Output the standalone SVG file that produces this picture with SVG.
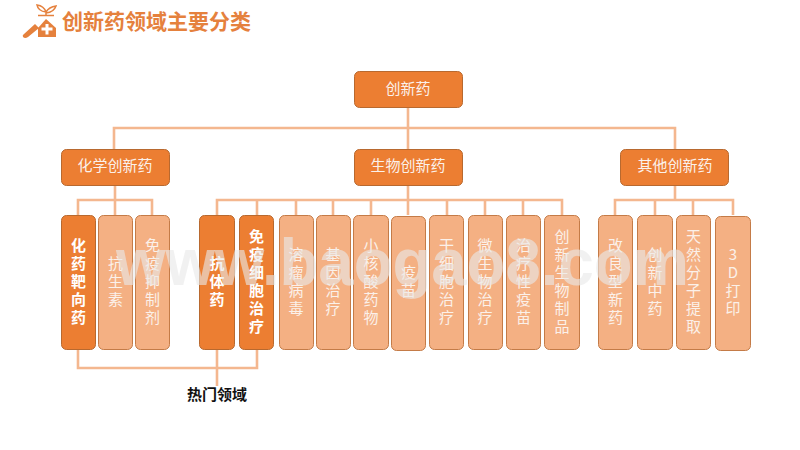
<svg xmlns="http://www.w3.org/2000/svg" width="800" height="450" viewBox="0 0 800 450">
<style>
text{font-family:"Noto Sans CJK SC","Liberation Sans",sans-serif}
.c{fill:none;stroke:#F4B78F;stroke-width:2.600}
.d{fill:#EC7E32;stroke:#B8692F;stroke-width:1}
.l{fill:#F4B083;stroke:#C47B47;stroke-width:1}
.t{fill:#FBF1EA;font-size:15px;text-anchor:middle}
.v{fill:#FBF1EA;font-size:15px;text-anchor:middle}
.b{font-weight:700;fill:#fff}
</style>
<rect width="800" height="450" fill="#fff"/>
<g id="logo">
<path d="M24 34 L35 24 L39 28 L28 37 Q25 39 23 37 Q22 35 24 34Z" fill="#E5813D"/>
<path d="M46 19 L56 28 V37 H38 V28Z" fill="#E5813D"/>
<path d="M45.500 24 h3 v3.500 h4 v3 h-4 v4 h-3 v-4 h-4 v-3 h4z" fill="#fff"/>
<path d="M38 15.500 H54 M46 15.500 V12 M46 12 Q38 11 37 5 Q44 6 46 12 Q49 7 56 6 Q54 12 46 13" fill="none" stroke="#E5813D" stroke-width="1.500"/>
</g>
<text x="62" y="29" font-size="21" font-weight="700" fill="#E5813D">创新药领域主要分类</text>
<g id="connectors">
<path class="c" d="M408 108V149M114 149V128H675V149M408 186V215"/>
<path class="c" d="M115 186V215M78 215V200H152V215"/>
<path class="c" d="M217 215V200H562V215M257 200V215M296 200V215M333 200V215M371 200V215M447 200V215M485 200V215M523 200V215"/>
<path class="c" d="M675 186V200M615 215V200H733V215M655 200V215M693 200V215"/>
<path class="c" d="M78 350V368H257V350M217 350V386"/>
</g>
<g id="n0"><rect class="d" x="354.500" y="71.500" width="108" height="36" rx="5"/><text class="t" x="408" y="94">创新药</text></g>
<g id="n1"><rect class="d" x="61.500" y="149.500" width="108" height="36" rx="5"/><text class="t" x="115" y="171">化学创新药</text></g>
<g id="n2"><rect class="d" x="354.500" y="149.500" width="108" height="36" rx="5"/><text class="t" x="408" y="171">生物创新药</text></g>
<g id="n3"><rect class="d" x="620.500" y="149.500" width="108" height="36" rx="5"/><text class="t" x="675" y="171">其他创新药</text></g>
<g id="a1"><rect class="d" x="61.500" y="215.500" width="34" height="134" rx="5"/><text class="v b" x="78.500"><tspan x="78.500" y="251">化</tspan><tspan x="78.500" y="269">药</tspan><tspan x="78.500" y="287">靶</tspan><tspan x="78.500" y="305">向</tspan><tspan x="78.500" y="323">药</tspan></text></g>
<g id="a2"><rect class="l" x="98.500" y="215.500" width="34" height="134" rx="5"/><text class="v" x="115.500"><tspan x="115.500" y="269">抗</tspan><tspan x="115.500" y="287">生</tspan><tspan x="115.500" y="305">素</tspan></text></g>
<g id="a3"><rect class="l" x="135.500" y="215.500" width="34" height="134" rx="5"/><text class="v" x="152.500"><tspan x="152.500" y="251">免</tspan><tspan x="152.500" y="269">疫</tspan><tspan x="152.500" y="287">抑</tspan><tspan x="152.500" y="305">制</tspan><tspan x="152.500" y="323">剂</tspan></text></g>
<g id="b1"><rect class="d" x="199.500" y="215.500" width="35" height="134" rx="5"/><text class="v b" x="217"><tspan x="217" y="269">抗</tspan><tspan x="217" y="287">体</tspan><tspan x="217" y="305">药</tspan></text></g>
<g id="b2"><rect class="d" x="239.500" y="215.500" width="34" height="134" rx="5"/><text class="v b" x="256.500"><tspan x="256.500" y="242">免</tspan><tspan x="256.500" y="260">疫</tspan><tspan x="256.500" y="278">细</tspan><tspan x="256.500" y="296">胞</tspan><tspan x="256.500" y="314">治</tspan><tspan x="256.500" y="332">疗</tspan></text></g>
<g id="b3"><rect class="l" x="279.500" y="215.500" width="34" height="134" rx="5"/><text class="v" x="296"><tspan x="296" y="260">溶</tspan><tspan x="296" y="278">瘤</tspan><tspan x="296" y="296">病</tspan><tspan x="296" y="314">毒</tspan></text></g>
<g id="b4"><rect class="l" x="316.500" y="215.500" width="34" height="134" rx="5"/><text class="v" x="333"><tspan x="333" y="260">基</tspan><tspan x="333" y="278">因</tspan><tspan x="333" y="296">治</tspan><tspan x="333" y="314">疗</tspan></text></g>
<g id="b5"><rect class="l" x="353.500" y="215.500" width="35" height="134" rx="5"/><text class="v" x="371"><tspan x="371" y="251">小</tspan><tspan x="371" y="269">核</tspan><tspan x="371" y="287">酸</tspan><tspan x="371" y="305">药</tspan><tspan x="371" y="323">物</tspan></text></g>
<g id="b6"><rect class="l" x="391.500" y="216.500" width="34" height="134" rx="5"/><text class="v" x="408.500"><tspan x="408.500" y="278">疫</tspan><tspan x="408.500" y="296">苗</tspan></text></g>
<g id="b7"><rect class="l" x="429.500" y="215.500" width="34" height="134" rx="5"/><text class="v" x="446.500"><tspan x="446.500" y="251">干</tspan><tspan x="446.500" y="269">细</tspan><tspan x="446.500" y="287">胞</tspan><tspan x="446.500" y="305">治</tspan><tspan x="446.500" y="323">疗</tspan></text></g>
<g id="b8"><rect class="l" x="468.500" y="215.500" width="34" height="134" rx="5"/><text class="v" x="485"><tspan x="485" y="251">微</tspan><tspan x="485" y="269">生</tspan><tspan x="485" y="287">物</tspan><tspan x="485" y="305">治</tspan><tspan x="485" y="323">疗</tspan></text></g>
<g id="b9"><rect class="l" x="506.500" y="215.500" width="34" height="134" rx="5"/><text class="v" x="523.500"><tspan x="523.500" y="251">治</tspan><tspan x="523.500" y="269">疗</tspan><tspan x="523.500" y="287">性</tspan><tspan x="523.500" y="305">疫</tspan><tspan x="523.500" y="323">苗</tspan></text></g>
<g id="b10"><rect class="l" x="544.500" y="215.500" width="35" height="134" rx="5"/><text class="v" x="562"><tspan x="562" y="242">创</tspan><tspan x="562" y="260">新</tspan><tspan x="562" y="278">生</tspan><tspan x="562" y="296">物</tspan><tspan x="562" y="314">制</tspan><tspan x="562" y="332">品</tspan></text></g>
<g id="c1"><rect class="l" x="598.500" y="215.500" width="34" height="134" rx="5"/><text class="v" x="615.500"><tspan x="615.500" y="251">改</tspan><tspan x="615.500" y="269">良</tspan><tspan x="615.500" y="287">型</tspan><tspan x="615.500" y="305">新</tspan><tspan x="615.500" y="323">药</tspan></text></g>
<g id="c2"><rect class="l" x="637.500" y="215.500" width="35" height="134" rx="5"/><text class="v" x="655"><tspan x="655" y="260">创</tspan><tspan x="655" y="278">新</tspan><tspan x="655" y="296">中</tspan><tspan x="655" y="314">药</tspan></text></g>
<g id="c3"><rect class="l" x="676.500" y="215.500" width="34" height="134" rx="5"/><text class="v" x="693.500"><tspan x="693.500" y="242">天</tspan><tspan x="693.500" y="260">然</tspan><tspan x="693.500" y="278">分</tspan><tspan x="693.500" y="296">子</tspan><tspan x="693.500" y="314">提</tspan><tspan x="693.500" y="332">取</tspan></text></g>
<g id="c4"><rect class="l" x="715.500" y="216.500" width="35" height="134" rx="5"/><text class="v" x="733"><tspan x="733" y="260">3</tspan><tspan x="733" y="278">D</tspan><tspan x="733" y="296">打</tspan><tspan x="733" y="314">印</tspan></text></g>
<text x="217" y="400" font-size="15" font-weight="700" fill="#111" text-anchor="middle">热门领域</text>
<text x="116" y="285" font-size="66" font-weight="700" textLength="573" lengthAdjust="spacingAndGlyphs" fill="#E8E8E8" fill-opacity=".62" style="font-family:'Liberation Sans',sans-serif">www.baogao8.com</text>
</svg>
